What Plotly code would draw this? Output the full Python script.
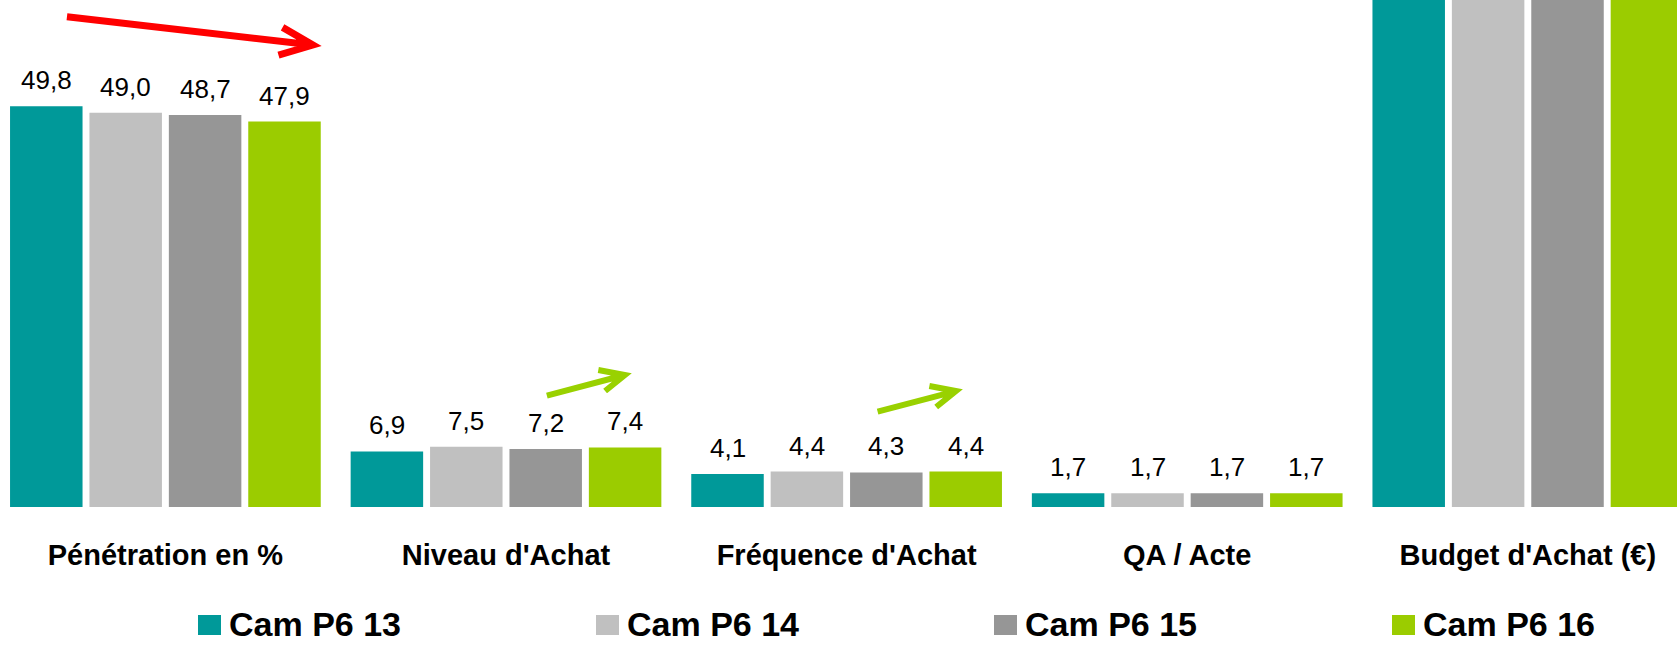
import plotly.graph_objects as go

# Indicators (one bar group per indicator)
categories = ["Pénétration en %", "Niveau d'Achat", "Fréquence d'Achat", "QA / Acte", "Budget d'Achat (€)"]
series_names = ["Cam P6 13", "Cam P6 14", "Cam P6 15", "Cam P6 16"]
colors = ["#009999", "#C0C0C0", "#969696", "#9BCC00"]

cam_p6_13 = [49.8, 6.9, 4.1, 1.7, 78.4]
cam_p6_14 = [49.0, 7.5, 4.4, 1.7, 80.1]
cam_p6_15 = [48.7, 7.2, 4.3, 1.7, 77.6]
cam_p6_16 = [47.9, 7.4, 4.4, 1.7, 79.3]
series_values = [cam_p6_13, cam_p6_14, cam_p6_15, cam_p6_16]

# Budget values are beyond the axis range, so they carry no label
labelled = [True, True, True, True, False]

FONT = "Liberation Sans, Arial, sans-serif"
x_pos = list(range(len(categories)))
BARGAP = 0.0675
BARGROUPGAP = 0.087
n_series = len(series_names)
slot = (1 - BARGAP) / n_series

fig = go.Figure()
for i, (name, vals, col) in enumerate(zip(series_names, series_values, colors)):
    fig.add_trace(go.Bar(
        x=x_pos, y=vals, name=name, marker=dict(color=col, line=dict(width=0)),
        showlegend=False,
    ))
    # value labels above each bar, placed at the bar's centre in the group
    offset = (i - (n_series - 1) / 2) * slot
    for xp, v, lab in zip(x_pos, vals, labelled):
        if not lab:
            continue
        fig.add_annotation(
            x=xp + offset, y=v, xref="x", yref="y",
            text=f"{v:.1f}".replace(".", ","), showarrow=False,
            xanchor="center", yanchor="bottom", yshift=9,
            font=dict(family=FONT, size=26, color="#000000"),
        )

# Trend arrows: (start, tip, upper arm, lower arm) in data coordinates
arrows = [
    ("#FF0000", 7, (-0.289, 60.92), (0.433, 57.41), (0.344, 59.60), (0.332, 56.16)),
    ("#99D100", 6, (1.120, 13.83), (1.349, 16.40), (1.271, 17.02), (1.291, 14.41)),
    ("#99D100", 6, (2.091, 11.84), (2.321, 14.41), (2.243, 15.03), (2.263, 12.43)),
]
for col, w, s, t, u, l in arrows:
    path = (f"M {s[0]},{s[1]} L {t[0]},{t[1]} "
            f"M {u[0]},{u[1]} L {t[0]},{t[1]} L {l[0]},{l[1]}")
    fig.add_shape(type="path", path=path, xref="x", yref="y",
                  line=dict(color=col, width=w), layer="above")

# Legend drawn as coloured squares with bold labels
legend_x0 = 198
legend_step = 398
W, H = 1677, 646
PLOT_BOTTOM = 507
for i, (name, col) in enumerate(zip(series_names, colors)):
    x0 = legend_x0 + i * legend_step
    fig.add_shape(type="rect", xref="paper", yref="paper",
                  x0=x0 / W, x1=(x0 + 23) / W,
                  y0=-(635 - PLOT_BOTTOM) / PLOT_BOTTOM, y1=-(615 - PLOT_BOTTOM) / PLOT_BOTTOM,
                  fillcolor=col, line=dict(width=0))
    fig.add_annotation(xref="paper", yref="paper", x=(x0 + 30) / W,
                       y=-(624 - PLOT_BOTTOM) / PLOT_BOTTOM,
                       text=name, showarrow=False, xanchor="left", yanchor="middle",
                       borderpad=0,
                       font=dict(family=FONT, size=34, color="#000000", weight="bold"))

fig.update_layout(
    width=W, height=H,
    margin=dict(l=0, r=0, t=0, b=H - PLOT_BOTTOM, pad=0),
    paper_bgcolor="#FFFFFF", plot_bgcolor="#FFFFFF",
    barmode="group", bargap=BARGAP, bargroupgap=BARGROUPGAP,
    showlegend=False,
    font=dict(family=FONT, color="#000000"),
)
fig.update_xaxes(
    range=[-0.4856, 4.438], tickmode="array", tickvals=x_pos, ticktext=categories,
    tickfont=dict(family=FONT, size=29, color="#000000", weight="bold"),
    ticks="outside", ticklen=22, tickcolor="rgba(0,0,0,0)",
    showline=False, showgrid=False, zeroline=False,
)
fig.update_yaxes(range=[0, 63], visible=False, showgrid=False, zeroline=False)

fig.write_html("out.html")
